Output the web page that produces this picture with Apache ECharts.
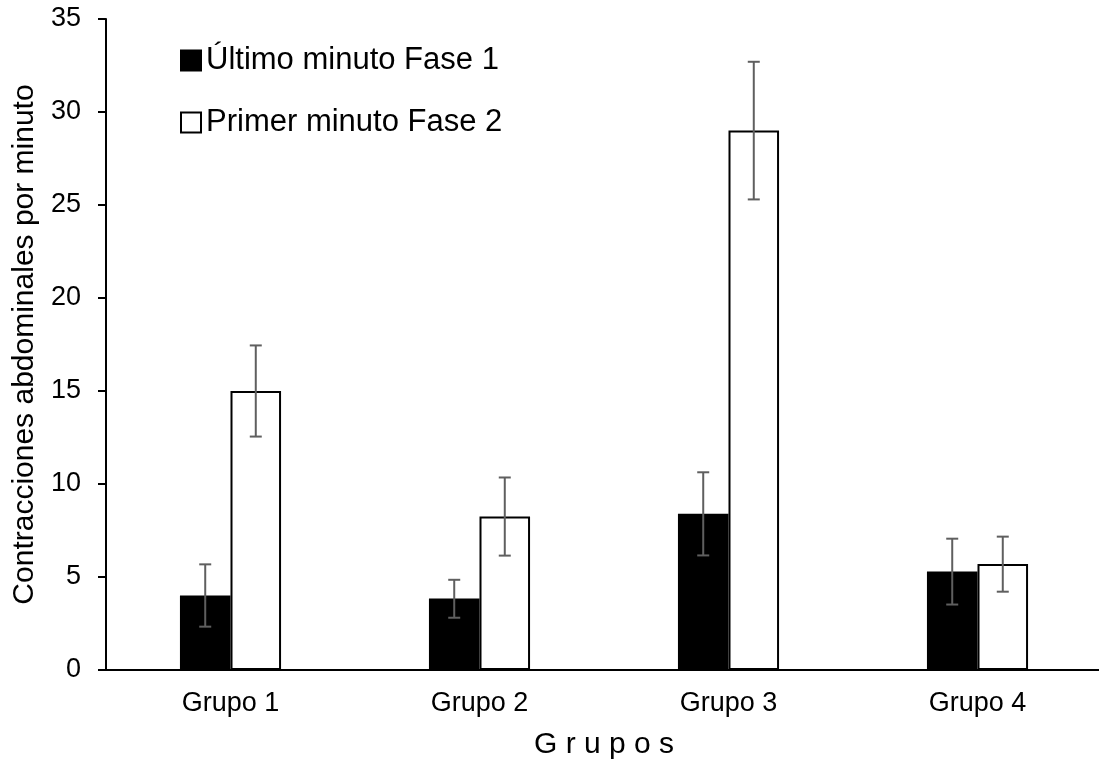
<!DOCTYPE html>
<html>
<head>
<meta charset="utf-8">
<script src="https://cdn.jsdelivr.net/npm/echarts@6/dist/echarts.min.js"></script>
<style>
  html, body { margin: 0; padding: 0; background: #fff; }
  #chart { width: 1099px; height: 761px; }
</style>
</head>
<body>
<div id="chart"></div>
<script>
const groups = ['Grupo 1', 'Grupo 2', 'Grupo 3', 'Grupo 4'];
const seriesNames = ['Último minuto Fase 1', 'Primer minuto Fase 2'];
const fase1 = [4.0, 3.85, 8.4, 5.3];
const fase2 = [15.0, 8.25, 29.0, 5.7];
// error bar limits [low, high]
const fase1Err = [[2.33, 5.68], [2.81, 4.85], [6.16, 10.63], [3.52, 7.06]];
const fase2Err = [[12.55, 17.45], [6.15, 10.35], [25.3, 32.7], [4.21, 7.17]];

const font = 'Liberation Sans, Arial, sans-serif';
const errColor = '#5f5f5f';

// side: -1 = left bar, 1 = right bar
function errSeries(errs, side) {
  return {
    type: 'custom',
    silent: true,
    z: 10,
    data: errs.map((e, i) => [i, e[0], e[1]]),
    renderItem: (params, api) => {
      const lo = api.coord([api.value(0), api.value(1)]);
      const hi = api.coord([api.value(0), api.value(2)]);
      const bw = api.size([1, 0])[0] * 0.203;
      const x = lo[0] + side * bw / 2;
      const cap = 6;
      const style = { stroke: errColor, lineWidth: 2 };
      return {
        type: 'group',
        children: [
          { type: 'line', shape: { x1: x, y1: lo[1], x2: x, y2: hi[1] }, style },
          { type: 'line', shape: { x1: x - cap, y1: lo[1], x2: x + cap, y2: lo[1] }, style },
          { type: 'line', shape: { x1: x - cap, y1: hi[1], x2: x + cap, y2: hi[1] }, style }
        ]
      };
    }
  };
}

const chart = echarts.init(document.getElementById('chart'));
chart.setOption({
  backgroundColor: '#fff',
  animation: false,
  textStyle: { fontFamily: font },
  grid: { left: 106, right: -3, top: 19, bottom: 91, outerBoundsMode: 'none', containLabel: false },
  legend: {
    orient: 'vertical',
    left: 180,
    top: 45,
    padding: 0,
    itemGap: 31,
    itemWidth: 20,
    itemHeight: 20,
    icon: 'rect',
    textStyle: { fontSize: 31, color: '#000', fontFamily: font },
    data: seriesNames
  },
  xAxis: {
    type: 'category',
    data: groups,
    name: 'G r u p o s',
    nameLocation: 'middle',
    nameGap: 60,
    nameTextStyle: { fontSize: 30, color: '#000', fontFamily: font },
    axisLine: { lineStyle: { color: '#000', width: 2 } },
    axisTick: { alignWithLabel: true, length: 7, lineStyle: { color: '#000', width: 2 } },
    axisLabel: { fontSize: 27, color: '#000', margin: 20 }
  },
  yAxis: {
    type: 'value',
    min: 0,
    max: 35,
    interval: 5,
    name: 'Contracciones abdominales por minuto',
    nameLocation: 'middle',
    nameGap: 66,
    nameTextStyle: { fontSize: 30, color: '#000', fontFamily: font },
    axisLine: { show: true, lineStyle: { color: '#000', width: 2 } },
    axisTick: { show: true, length: 8, lineStyle: { color: '#000', width: 2 } },
    axisLabel: { fontSize: 27, color: '#000', margin: 25 },
    splitLine: { show: false }
  },
  series: [
    {
      name: seriesNames[0],
      type: 'bar',
      data: fase1,
      barWidth: '20.3%',
      barGap: '0%',
      itemStyle: { color: '#000', borderColor: '#000', borderWidth: 1.5 }
    },
    {
      name: seriesNames[1],
      type: 'bar',
      data: fase2,
      barWidth: '20.3%',
      itemStyle: { color: '#fff', borderColor: '#000', borderWidth: 2 }
    },
    errSeries(fase1Err, -1),
    errSeries(fase2Err, 1)
  ]
});
</script>
</body>
</html>
